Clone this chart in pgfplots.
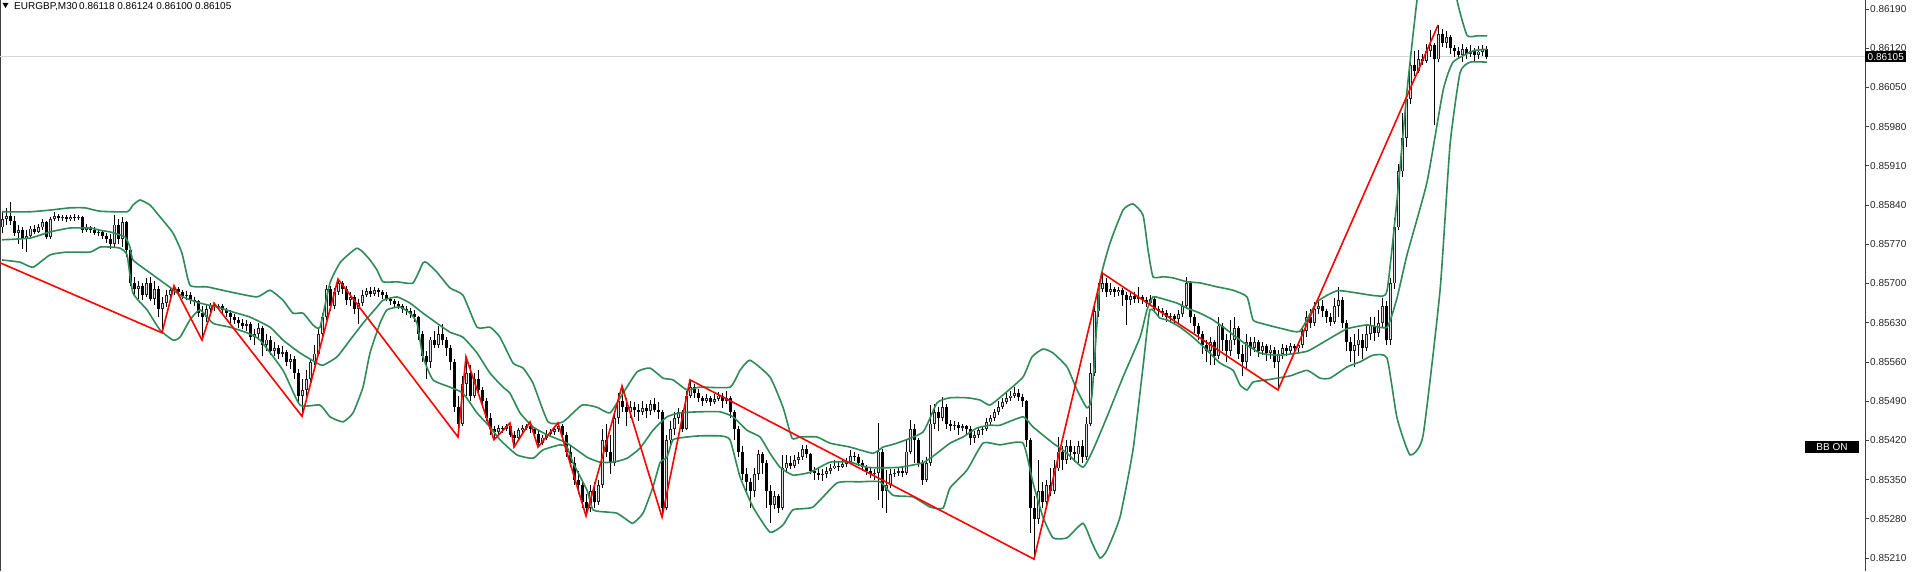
\documentclass[border=0pt]{standalone}
\usepackage{pgfplots}
\pgfplotsset{compat=1.18}
\usepackage{pgfplotstable}
\usepackage{fontspec}
\setmainfont{Liberation Sans}
\definecolor{bbgreen}{RGB}{46,139,87}
\definecolor{zzred}{RGB}{255,0,0}
% prices are given in units of 0.00001 above 0.85000 (e.g. 1105 = 0.86105)
\pgfplotstableread{
x o h l c
2 800 830 790 815
6 815 835 805 820
10 820 845 805 812
14 812 820 785 790
18 790 805 770 795
22 795 800 762 780
26 780 795 757 785
30 785 802 780 798
34 798 805 788 792
38 792 806 790 800
42 800 815 796 810
46 810 812 780 783
50 783 818 780 815
54 815 828 812 820
58 820 824 812 816
62 816 822 812 818
66 818 822 810 815
70 815 823 812 819
74 819 824 812 816
78 816 823 813 818
82 818 820 790 795
86 795 806 792 800
90 800 803 790 796
94 796 800 786 790
98 790 797 784 792
102 792 795 780 785
106 785 790 772 780
110 780 788 762 770
114 770 822 765 805
118 805 815 770 780
122 780 818 765 810
126 810 812 748 760
130 760 765 695 700
134 700 712 680 690
138 690 705 672 695
142 695 700 670 680
146 680 710 676 700
150 700 712 668 672
154 672 705 662 690
158 690 695 640 655
162 655 675 612 665
166 665 688 658 680
170 680 694 675 688
174 688 696 680 690
178 690 694 678 684
182 684 688 672 678
186 678 686 670 680
190 680 684 664 670
194 670 676 660 668
198 668 670 640 648
202 648 660 599 640
206 640 662 632 655
210 655 666 648 662
214 662 665 650 658
218 658 664 652 660
222 660 664 648 652
226 652 656 640 648
230 648 652 630 640
234 640 645 628 635
238 635 640 620 630
242 630 636 618 625
246 625 634 615 628
250 628 632 600 605
254 605 618 590 610
258 610 630 600 620
262 620 625 570 590
266 590 610 580 600
270 600 606 572 580
274 580 596 570 585
278 585 590 566 575
282 575 588 568 578
286 578 582 552 560
290 560 574 548 565
294 565 570 530 540
298 540 548 485 500
302 500 530 463 510
306 510 545 500 530
310 530 565 520 560
314 560 590 555 575
318 575 620 570 610
322 610 648 600 640
326 640 697 635 690
330 690 695 650 660
334 660 692 655 685
338 685 708 680 700
342 700 705 682 690
346 690 695 662 670
350 670 684 660 675
354 675 680 645 655
358 655 672 628 665
362 665 688 660 680
366 680 692 676 686
370 686 694 676 682
374 682 693 678 688
378 688 692 676 684
382 684 688 672 680
386 680 684 668 672
390 672 676 662 668
394 668 672 658 664
398 664 668 654 660
402 660 664 648 655
406 655 660 644 650
410 650 656 638 645
414 645 652 632 640
418 640 642 600 610
422 610 615 560 570
426 570 580 530 560
430 560 605 550 600
434 600 615 585 590
438 590 625 585 610
442 610 628 590 600
446 600 605 570 585
450 585 590 545 560
454 560 565 470 480
458 480 500 426 450
462 450 535 445 520
466 520 569 500 540
470 540 555 490 500
474 500 540 495 530
478 530 545 505 510
482 510 515 480 490
486 490 495 455 460
490 460 468 430 440
494 440 445 421 435
498 435 448 430 442
502 442 446 433 440
506 440 450 436 445
510 445 451 426 430
514 430 436 408 425
518 425 442 418 438
522 438 448 432 442
526 442 450 438 446
530 446 453 434 440
534 440 444 425 432
538 432 436 408 415
542 415 430 412 425
546 425 438 420 432
550 432 440 426 435
554 435 446 430 440
558 440 451 435 445
562 445 450 420 430
566 430 435 390 400
570 400 410 372 380
574 380 390 340 350
578 350 365 325 340
582 340 345 300 310
586 310 325 285 300
590 300 340 292 330
594 330 345 300 310
598 310 350 305 340
602 340 440 335 420
606 420 450 390 400
610 400 430 360 380
614 380 470 375 460
618 460 505 450 490
622 490 517 470 480
626 480 495 445 470
630 470 490 460 480
634 480 488 462 475
638 475 485 455 470
642 470 490 465 478
646 478 484 460 472
650 472 492 465 485
654 485 495 470 475
658 475 488 458 470
662 470 475 283 300
666 300 430 295 420
670 420 455 410 440
674 440 470 430 460
678 460 478 450 470
682 470 475 435 440
686 440 508 438 500
690 500 528 495 515
694 515 520 495 505
698 505 512 488 495
702 495 500 482 490
706 490 502 486 495
710 495 500 482 488
714 488 502 485 494
718 494 506 490 500
722 500 505 478 490
726 490 508 484 496
730 496 500 460 470
734 470 475 420 440
738 440 445 390 400
742 400 410 350 360
746 360 370 330 345
750 345 352 300 330
754 330 370 318 360
758 360 403 350 395
762 395 400 360 380
766 380 385 300 330
770 330 340 273 305
774 305 330 298 320
778 320 325 290 300
782 300 394 296 370
786 370 394 362 380
790 380 392 368 375
794 375 394 370 385
798 385 400 378 390
802 390 412 385 405
806 405 412 388 395
810 395 398 360 365
814 365 372 350 362
818 362 370 350 358
822 358 368 348 360
826 360 372 352 365
830 365 378 360 370
834 370 385 368 375
838 375 382 366 372
842 372 386 370 378
846 378 388 372 382
850 382 403 378 392
854 392 400 384 390
858 390 396 375 380
862 380 385 366 372
866 372 376 358 365
870 365 370 352 360
874 360 368 350 362
878 362 451 314 400
882 400 405 300 330
886 330 367 290 340
890 340 368 335 360
894 360 368 355 362
898 362 370 356 365
902 365 372 355 362
906 362 420 358 400
910 400 456 395 440
914 440 450 380 420
918 420 425 372 380
922 380 385 340 350
926 350 390 345 380
930 380 483 375 450
934 450 485 440 470
938 470 480 436 460
942 460 497 455 480
946 480 485 440 450
950 450 456 436 445
954 445 454 438 448
958 448 452 430 442
962 442 450 436 445
966 445 448 430 440
970 440 445 412 425
974 425 436 415 430
978 430 444 425 438
982 438 446 430 440
986 440 460 436 452
990 452 466 448 460
994 460 476 455 470
998 470 490 466 480
1002 480 496 476 488
1006 488 505 484 495
1010 495 508 490 500
1014 500 515 495 505
1018 505 512 490 498
1022 498 503 480 490
1026 490 492 408 420
1030 420 425 255 300
1034 300 320 208 280
1038 280 385 270 330
1042 330 345 300 310
1046 310 350 305 340
1050 340 370 320 330
1054 330 385 325 370
1058 370 426 365 400
1062 400 410 367 385
1066 385 420 378 410
1070 410 421 385 400
1074 400 410 382 395
1078 395 418 380 410
1082 410 420 380 390
1086 390 462 385 450
1090 450 558 445 540
1094 540 660 535 650
1098 650 700 640 690
1102 690 719 685 700
1106 700 710 676 685
1110 685 700 680 690
1114 690 694 676 684
1118 684 694 678 688
1122 688 692 660 680
1126 680 684 626 670
1130 670 684 662 678
1134 678 685 666 672
1138 672 694 665 675
1142 675 680 664 670
1146 670 676 658 666
1150 666 680 660 672
1154 672 676 650 655
1158 655 660 640 650
1162 650 656 640 648
1166 648 652 632 640
1170 640 648 630 642
1174 642 646 628 636
1178 636 652 630 645
1182 645 668 640 660
1186 660 712 655 700
1190 700 704 630 640
1194 640 645 612 625
1198 625 630 600 610
1202 610 615 575 590
1206 590 600 560 580
1210 580 605 555 595
1214 595 600 555 570
1218 570 640 565 625
1222 625 630 580 600
1226 600 610 560 580
1230 580 635 570 600
1234 600 640 590 620
1238 620 625 565 575
1242 575 590 535 560
1246 560 610 550 595
1250 595 605 570 585
1254 585 604 578 595
1258 595 600 568 580
1262 580 596 572 588
1266 588 592 562 576
1270 576 590 565 582
1274 582 586 550 560
1278 560 582 510 575
1282 575 592 565 585
1286 585 590 570 580
1290 580 594 574 588
1294 588 592 576 584
1298 584 596 578 590
1302 590 625 585 615
1306 615 650 605 640
1310 640 654 620 630
1314 630 667 625 655
1318 655 668 645 660
1322 660 670 640 650
1326 650 655 630 640
1330 640 648 625 632
1334 632 674 628 660
1338 660 694 640 670
1342 670 675 620 630
1346 630 635 580 595
1350 595 605 560 580
1354 580 610 551 590
1358 590 618 570 600
1362 600 610 565 585
1366 585 625 580 610
1370 610 640 600 625
1374 625 640 598 612
1378 612 652 605 630
1382 630 674 620 660
1386 660 668 590 600
1390 600 710 590 700
1394 700 817 690 800
1398 800 913 795 900
1402 900 1004 890 960
1406 960 1040 944 1030
1410 1030 1108 1020 1090
1414 1090 1115 1070 1080
1418 1080 1117 1076 1100
1422 1100 1110 1090 1098
1426 1098 1128 1094 1115
1430 1115 1152 1105 1125
1434 1125 1130 983 1100
1438 1100 1161 1095 1145
1442 1145 1155 1122 1130
1446 1130 1150 1120 1140
1450 1140 1144 1110 1120
1454 1120 1126 1105 1115
1458 1115 1122 1100 1108
1462 1108 1128 1095 1118
1466 1118 1122 1100 1110
1470 1110 1125 1104 1115
1474 1115 1120 1098 1108
1478 1108 1124 1100 1114
1482 1114 1126 1106 1118
1486 1118 1124 1100 1105
}\candles
\pgfplotstableread{
x y
2 828
30 828
50 831
70 835
85 835
100 829
127 828
133 840
140 849
150 840
160 819
173 790
182 754
190 697
207 694
230 685
257 676
270 688
283 670
293 647
303 647
313 626
320 622
330 701
340 737
350 754
357 763
363 756
370 742
377 724
383 703
397 703
413 701
423 737
427 737
437 720
450 692
463 679
477 622
490 622
500 604
513 558
523 549
533 522
548 453
563 453
582 483
597 479
610 469
623 504
637 542
650 549
663 531
673 528
687 510
700 515
730 515
740 545
750 563
770 533
783 479
792 424
800 426
817 426
830 415
850 408
873 397
883 408
897 415
923 435
937 487
950 496
967 496
980 492
990 483
1005 504
1023 533
1032 569
1043 583
1053 576
1067 551
1077 510
1087 478
1092 501
1100 701
1110 772
1123 831
1133 842
1143 822
1148 760
1153 712
1163 712
1173 710
1187 703
1200 701
1217 694
1233 688
1247 676
1253 635
1263 628
1283 619
1300 615
1317 667
1337 687
1357 683
1377 678
1387 687
1397 849
1407 1044
1417 1206
1427 1331
1437 1384
1447 1331
1457 1206
1467 1143
1477 1142
1487 1142
}\bbupper
\pgfplotstableread{
x y
2 778
30 781
50 792
70 799
90 799
100 795
110 792
125 783
130 765
133 742
150 719
167 697
183 676
200 665
217 658
233 649
250 640
270 622
283 599
300 576
317 558
323 554
337 569
350 599
363 629
377 658
383 670
397 676
410 665
423 647
437 629
450 613
463 604
477 576
490 540
503 515
510 504
520 469
533 444
547 430
567 415
587 390
600 381
613 381
627 388
640 406
653 438
667 462
680 469
700 471
720 471
733 462
747 438
760 426
770 397
780 372
793 358
810 363
830 381
850 381
867 372
883 371
900 372
923 380
937 397
950 415
963 426
977 442
990 447
1000 447
1023 462
1033 444
1053 415
1067 397
1083 372
1093 403
1107 462
1123 533
1140 604
1147 653
1153 676
1160 674
1177 665
1187 656
1200 647
1213 635
1227 617
1240 599
1260 576
1280 572
1307 579
1327 599
1347 619
1367 626
1387 622
1397 674
1407 751
1427 881
1443 1044
1453 1095
1473 1115
1487 1118
}\bbmiddle
\pgfplotstableread{
x y
2 742
20 738
33 729
50 751
67 756
90 756
100 765
110 765
120 763
127 751
133 683
147 653
160 617
173 599
180 604
190 635
200 653
213 629
230 622
247 612
260 599
283 545
300 483
320 483
330 462
343 453
353 469
363 515
370 576
380 629
387 653
400 658
410 647
417 629
423 569
433 528
450 515
463 504
477 469
490 444
500 421
517 394
533 388
543 403
560 412
567 408
573 380
587 331
593 296
607 292
617 290
627 278
633 272
643 290
653 337
660 380
667 390
673 421
687 426
700 428
720 428
730 421
740 355
753 301
770 256
783 269
793 296
813 301
837 344
860 346
880 346
893 322
913 319
930 301
943 299
950 335
967 367
983 415
1000 412
1023 415
1033 344
1043 283
1053 246
1067 246
1083 272
1092 237
1100 210
1107 224
1120 283
1133 403
1143 551
1150 653
1160 638
1167 635
1180 622
1193 604
1207 581
1220 558
1233 545
1240 519
1247 510
1253 524
1267 528
1290 535
1307 545
1320 531
1330 531
1347 551
1360 560
1373 572
1387 567
1397 460
1410 394
1423 428
1440 687
1450 947
1460 1076
1470 1095
1487 1095
}\bblower
\pgfplotstableread{
x y
0 737
162 612
174 696
202 599
214 665
302 463
338 708
458 426
466 569
494 421
510 451
514 408
530 453
538 408
558 451
586 285
622 517
662 283
690 528
1034 208
1102 719
1278 510
1438 1161
}\zigzag
\newcommand{\plab}[2]{\node[anchor=west, inner sep=0pt, xshift=5pt, font=\fontsize{10}{12}\selectfont, text=black!85] at (axis cs:1865,#1) {#2};}
\begin{document}
\begin{tikzpicture}
\begin{axis}[
  scale only axis, width=1865pt, height=571pt,
  at={(0,0)}, anchor=south west,
  xmin=0, xmax=1865, ymin=186.8, ymax=1206,
  separate axis lines,
  x axis line style={draw=none},
  y axis line style={draw=black!75, line width=1pt},
  xtick=\empty, xticklabel=\empty,
  ytick={210,280,350,420,490,560,630,700,770,840,910,980,1050,1120,1190},
  yticklabel=\empty,
  ytick pos=right,
  tick align=outside, major tick length=3.5pt,
  tick style={draw=black!75, line width=0.8pt},
  extra y ticks={1105}, extra y tick labels={},
  extra y tick style={grid=major, major grid style={draw=black!16, line width=1.3pt}, major tick length=0pt, yticklabel=\empty},
  clip mode=individual,
]
% wicks
\addplot[draw=none, mark=none, forget plot,
  error bars/.cd, y dir=plus, y explicit, error mark=none,
  error bar style={draw=black, line width=1pt}]
  table[x=x, y=l, y error plus expr=\thisrow{h}-\thisrow{l}] {\candles};
% bearish bodies
\addplot[draw=none, mark=none, forget plot,
  restrict expr to domain={\thisrow{c}-\thisrow{o}}{-5000:-0.5},
  error bars/.cd, y dir=plus, y explicit, error mark=none,
  error bar style={draw=black, line width=3pt}]
  table[x=x, y=c, y error plus expr=\thisrow{o}-\thisrow{c}] {\candles};
% bullish bodies: outline
\addplot[draw=none, mark=none, forget plot,
  restrict expr to domain={\thisrow{c}-\thisrow{o}}{0.5:5000},
  error bars/.cd, y dir=plus, y explicit, error mark=none,
  error bar style={draw=black!85, line width=3pt}]
  table[x=x, y=o, y error plus expr=\thisrow{c}-\thisrow{o}] {\candles};
% bullish bodies: hollow inside
\addplot[draw=none, mark=none, forget plot,
  restrict expr to domain={\thisrow{c}-\thisrow{o}}{3.5:5000},
  error bars/.cd, y dir=plus, y explicit, error mark=none,
  error bar style={draw=black!12, line width=1pt}]
  table[x=x, y expr=\thisrow{o}+1.5, y error plus expr=\thisrow{c}-\thisrow{o}-3] {\candles};
% Bollinger bands
\addplot[bbgreen, line width=1.6pt, mark=none, smooth, tension=0.3] table {\bbupper};
\addplot[bbgreen, line width=1.6pt, mark=none, smooth, tension=0.3] table {\bbmiddle};
\addplot[bbgreen, line width=1.6pt, mark=none, smooth, tension=0.3] table {\bblower};
% ZigZag
\addplot[zzred, line width=1.6pt, mark=none] table {\zigzag};
% price scale labels
\plab{210}{0.85210}
\plab{280}{0.85280}
\plab{350}{0.85350}
\plab{420}{0.85420}
\plab{490}{0.85490}
\plab{560}{0.85560}
\plab{630}{0.85630}
\plab{700}{0.85700}
\plab{770}{0.85770}
\plab{840}{0.85840}
\plab{910}{0.85910}
\plab{980}{0.85980}
\plab{1050}{0.86050}
\plab{1120}{0.86120}
\plab{1190}{0.86190}
% current price box
\node[anchor=west, fill=black, text=white, inner xsep=2.5pt, inner ysep=1.6pt, font=\fontsize{10}{12}\selectfont] at (axis cs:1865,1105) {0.86105};
% BB ON label
\node[fill=black, text=white, minimum width=54pt, minimum height=12pt, inner sep=0pt, font=\fontsize{10}{12}\selectfont] at (axis cs:1832,408) {BB ON};
\end{axis}
% header
\fill[black] (2.5pt,568pt) -- (8.5pt,568pt) -- (5.5pt,563pt) -- cycle;
\node[anchor=base west, inner sep=0pt, font=\fontsize{10}{12}\selectfont] at (14pt,561.5pt) {EURGBP,M30};
\node[anchor=base west, inner sep=0pt, font=\fontsize{10}{12}\selectfont] at (79pt,561.5pt) {0.86118 0.86124 0.86100 0.86105};
\pgfresetboundingbox
\useasboundingbox (0,0) rectangle (1915pt,571pt);
\end{tikzpicture}
\end{document}
